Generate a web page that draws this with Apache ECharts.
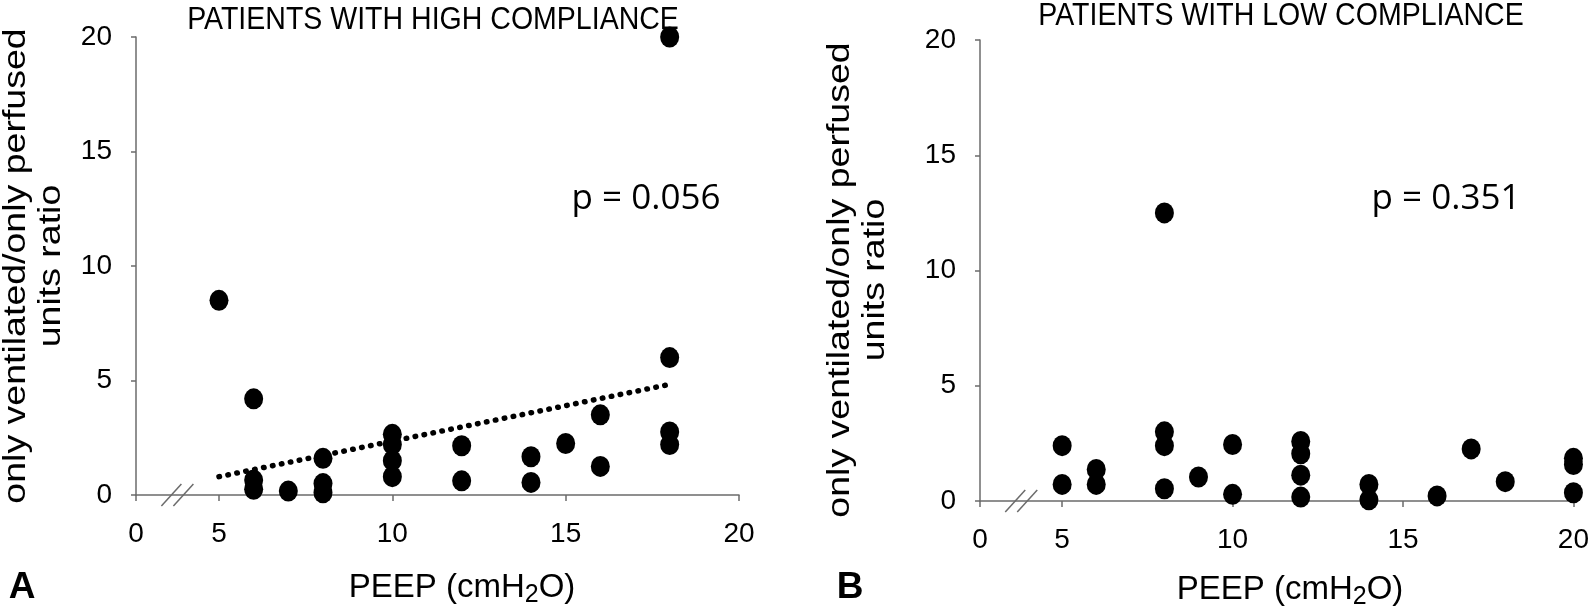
<!DOCTYPE html>
<html>
<head>
<meta charset="utf-8">
<script src="https://cdn.jsdelivr.net/npm/echarts@6.0.0/dist/echarts.min.js"></script>
<style>
html, body { margin: 0; padding: 0; background: #fff; }
#chart { width: 1592px; height: 612px; }
</style>
</head>
<body>
<div id="chart"></div>
<script>
// A: patients with high compliance
var highPeep  = [5, 6, 6, 6, 7, 8, 8, 8, 10, 10, 10, 10, 12, 12, 14, 14, 15, 16, 16, 18, 18, 18, 18];
var highRatio = [8.5, 4.2, 0.65, 0.25, 0.17, 1.6, 0.5, 0.1, 2.65, 2.2, 1.5, 0.8, 2.15, 0.62, 1.67, 0.55, 2.25, 3.5, 1.25, 20, 6.0, 2.75, 2.2];
// dotted trend line (A only)
var trendPeep  = [5, 17.9];
var trendRatio = [0.8, 4.8];
// B: patients with low compliance
var lowPeep  = [5, 5, 6, 6, 8, 8, 8, 8, 9, 10, 10, 12, 12, 12, 12, 14, 14, 16, 17, 18, 20, 20, 20];
var lowRatio = [2.4, 0.72, 1.37, 0.72, 12.5, 3.0, 2.4, 0.53, 1.04, 2.45, 0.29, 2.58, 2.05, 1.12, 0.17, 0.72, 0.05, 0.22, 2.26, 0.84, 1.85, 1.58, 0.36];

var xTicks = [5, 10, 15, 20];
var xStart = [2.606, 2.59];   // where the broken x axis begins (labelled 0)
var breakAt = 3.8;            // position of the // mark
var titles = ['PATIENTS WITH HIGH COMPLIANCE', 'PATIENTS WITH LOW COMPLIANCE'];
var pValues = ['p = 0.056', 'p = 0.351'];

var axisColor = '#6b6b6b';
var tickFont = "'Liberation Sans Narrow', 'Liberation Sans', Arial, sans-serif";
var textFont = "'Liberation Sans', Arial, sans-serif";

function zip(xs, ys) {
    return xs.map(function (x, i) { return [x, ys[i]]; });
}

function makeXAxis(i) {
    var min = xStart[i];
    var vals = [min].concat(xTicks);
    return {
        type: 'value', gridIndex: i, min: min, max: 20,
        axisLine: { show: true, onZero: false, lineStyle: { color: axisColor, width: 1.5 } },
        axisTick: { show: true, length: 6, customValues: vals, lineStyle: { color: axisColor, width: 1.5 } },
        axisLabel: {
            customValues: vals, margin: 25, fontSize: 28, color: '#000', fontFamily: tickFont,
            formatter: function (v) { return Math.abs(v - min) < 1e-6 ? '0' : String(v); }
        },
        splitLine: { show: false }
    };
}

function makeYAxis(i) {
    return {
        type: 'value', gridIndex: i, min: 0, max: 20, interval: 5,
        axisLine: { show: true, lineStyle: { color: axisColor, width: 1.5 } },
        axisTick: { show: true, length: 5, lineStyle: { color: axisColor, width: 1.5 } },
        axisLabel: { margin: 24, fontSize: 28, color: '#000', fontFamily: tickFont },
        splitLine: { show: false }
    };
}

var chart = echarts.init(document.getElementById('chart'), null, { renderer: 'canvas' });

var dot = { color: '#000', opacity: 1 };
var option = {
    animation: false,
    grid: [
        { left: 136, right: 853, top: 37, bottom: 117 },
        { left: 980, right: 12, top: 40, bottom: 111 }
    ],
    xAxis: [makeXAxis(0), makeXAxis(1)],
    yAxis: [makeYAxis(0), makeYAxis(1)],
    series: [
        {
            type: 'line', xAxisIndex: 0, yAxisIndex: 0, data: zip(trendPeep, trendRatio),
            symbol: 'none', silent: true,
            lineStyle: { color: '#000', width: 5.5, type: [0.5, 8.6], cap: 'round' }
        },
        {
            type: 'scatter', xAxisIndex: 0, yAxisIndex: 0, data: zip(highPeep, highRatio),
            symbol: 'circle', symbolSize: [19, 21], itemStyle: dot
        },
        {
            type: 'scatter', xAxisIndex: 1, yAxisIndex: 1, data: zip(lowPeep, lowRatio),
            symbol: 'circle', symbolSize: [19, 21], itemStyle: dot
        }
    ]
};
chart.setOption(option);

// texts and the axis-break marks
var g = [];
function text(x, y, str, font, extra) {
    var el = {
        type: 'text', x: x, y: y, silent: true,
        style: { text: str, font: font, fill: '#000', align: 'center', verticalAlign: 'middle' }
    };
    for (var k in extra) el[k] = extra[k];
    return el;
}

g.push(text(433, 20, titles[0], '31px ' + textFont, { scaleX: 0.92 }));
g.push(text(1281, 16, titles[1], '31px ' + textFont, { scaleX: 0.92 }));

var yName = 'only ventilated/only perfused\nunits ratio';
var yl = text(34, 266, yName, '37.5px ' + textFont, { rotation: Math.PI / 2, scaleY: 0.83 });
yl.style.lineHeight = 42;
g.push(yl);
var yr = text(858, 280, yName, '37.5px ' + textFont, { rotation: Math.PI / 2, scaleY: 0.83 });
yr.style.lineHeight = 42;
g.push(yr);

g.push(text(646, 199, pValues[0], "35px 'Open Sans', sans-serif"));
g.push(text(1446, 199, pValues[1], "35px 'Open Sans', sans-serif"));

function peep(x, y) {
    return {
        type: 'text', x: x, y: y, silent: true,
        style: {
            text: '{n|PEEP (cmH}{s|2}{n|O)}', align: 'center', verticalAlign: 'middle',
            rich: {
                n: { fontSize: 33, fontFamily: textFont, lineHeight: 40, fill: '#000' },
                s: { fontSize: 25, fontFamily: textFont, lineHeight: 25, verticalAlign: 'bottom', fill: '#000' }
            }
        }
    };
}
g.push(peep(462, 588));
g.push(peep(1290, 590));

g.push(text(22, 588, 'A', 'bold 37px ' + textFont));
g.push(text(850, 588, 'B', 'bold 37px ' + textFont));

[0, 1].forEach(function (i) {
    var p = chart.convertToPixel({ gridIndex: i }, [breakAt, 0]);
    [-6, 6].forEach(function (dx) {
        g.push({
            type: 'line', silent: true,
            shape: { x1: p[0] + dx - 10, y1: p[1] + 11, x2: p[0] + dx + 10, y2: p[1] - 11 },
            style: { stroke: axisColor, lineWidth: 1.5 }
        });
    });
});

chart.setOption({ graphic: g });
</script>
</body>
</html>
